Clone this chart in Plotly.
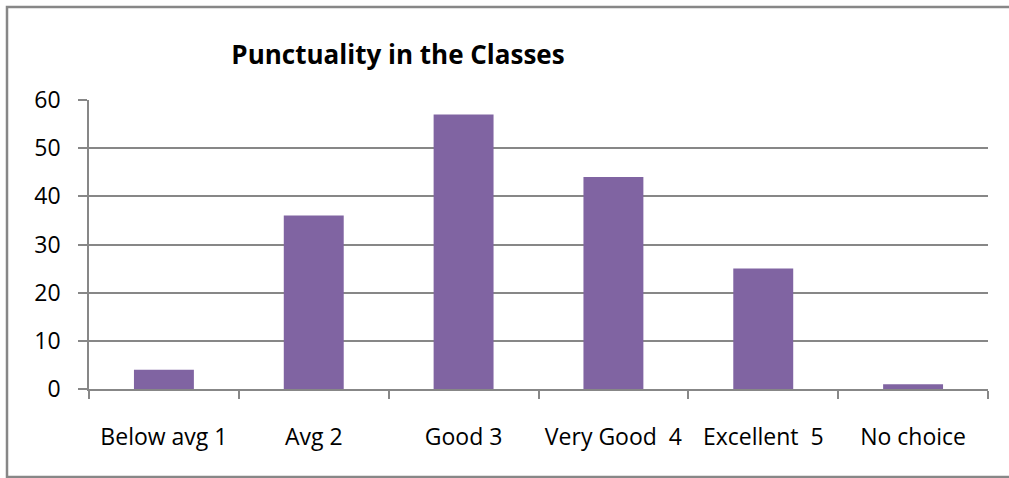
import plotly.graph_objects as go

categories = ["Below avg 1", "Avg 2", "Good 3", "Very Good\u00a0 4", "Excellent\u00a0 5", "No choice"]
values = [4, 36, 57, 44, 25, 1]
y_ticks = [0, 10, 20, 30, 40, 50, 60]
title_text = "Punctuality in the Classes"

W, H = 1009, 478
L, R, T, B = 89, 21, 100, 89
pw, ph = W - L - R, H - T - B
grey = "#878787"
font_family = "'Open Sans', Lato, sans-serif"

fig = go.Figure(go.Bar(x=categories, y=values, marker=dict(color="#8064A2", line=dict(width=0)), width=0.4))

fig.update_layout(
    width=W, height=H,
    margin=dict(l=L, r=R, t=T, b=B, pad=0),
    paper_bgcolor="white", plot_bgcolor="white",
    showlegend=False,
    font=dict(family=font_family, size=23, color="black"),
    title=dict(text="<b>" + title_text + "</b>", x=398 / W, xanchor="center", xref="container",
               y=1 - 55 / H, yanchor="middle", yref="container",
               font=dict(family=font_family, size=26, color="black")),
    xaxis=dict(showline=True, linecolor=grey, linewidth=1.5, ticks="outside", tickson="boundaries",
               ticklen=8, tickcolor=grey, tickwidth=1.5, showgrid=False, ticklabelstandoff=27,
               tickfont=dict(size=23)),
    yaxis=dict(range=[0, 60], tickvals=y_ticks, showline=True, linecolor=grey, linewidth=1.5,
               ticks="outside", ticklen=9, tickcolor=grey, tickwidth=1.5, showgrid=True,
               gridcolor=grey, gridwidth=1.5, zeroline=False, ticklabelstandoff=13,
               tickfont=dict(size=23)),
    shapes=[dict(type="rect", xref="paper", yref="paper",
                 x0=(7 - L) / pw, x1=(1015 - L) / pw,
                 y0=(H - B - 477) / ph, y1=(H - B - 7) / ph,
                 line=dict(color=grey, width=2.5), fillcolor="rgba(0,0,0,0)", layer="above")],
)

fig.write_html("out.html", config={"displayModeBar": False},
               post_script="document.body.style.margin='0';")
